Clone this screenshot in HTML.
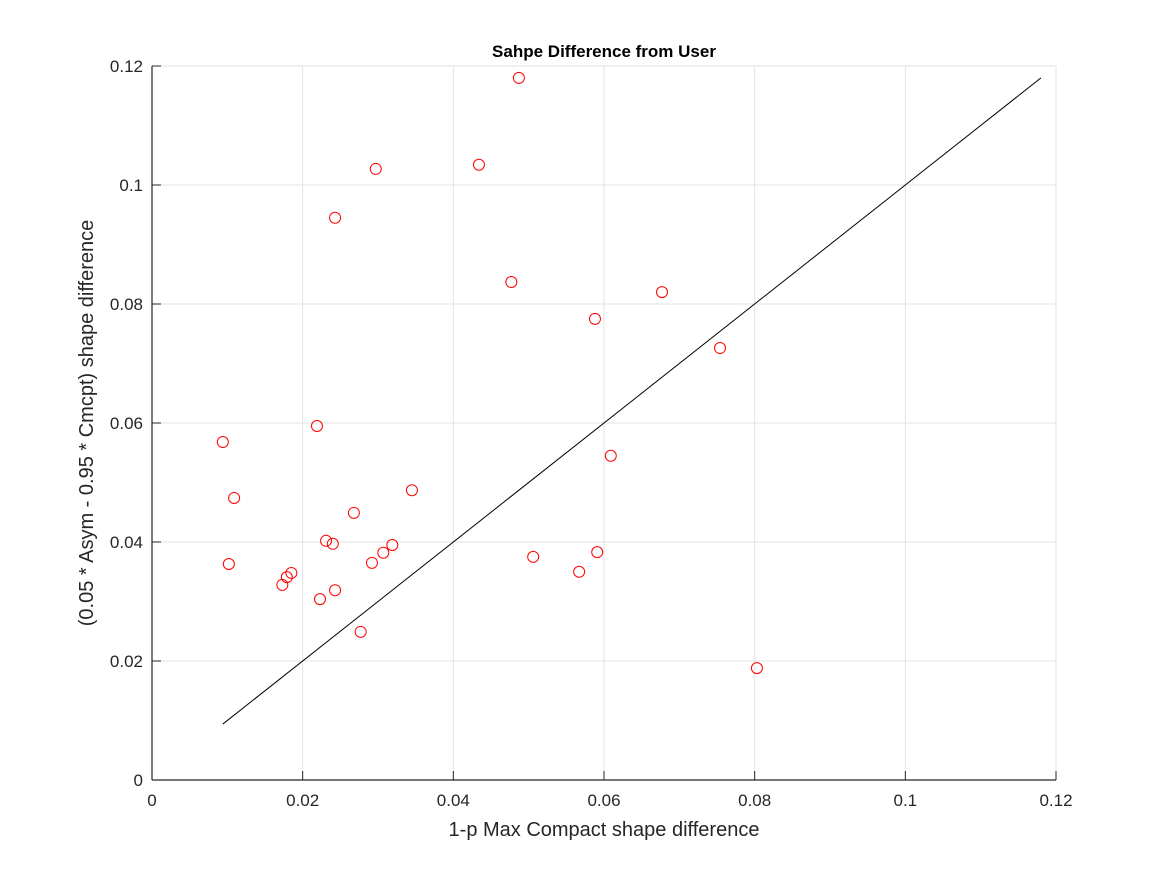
<!DOCTYPE html>
<html><head><meta charset="utf-8">
<style>
html,body{margin:0;padding:0;background:#fff;}
svg text{font-family:"Liberation Sans",sans-serif;fill:#262626;}
</style></head>
<body>
<svg id="chart" width="1167" height="875" viewBox="0 0 1167 875" xmlns="http://www.w3.org/2000/svg">
<rect width="1167" height="875" fill="#fff"/>
<g id="grid"></g>
<g id="marks"></g>
<g id="axes"></g>
<text x="604" y="57" text-anchor="middle" font-size="17" font-weight="bold" style="fill:#000">Sahpe Difference from User</text>
<text x="604" y="836" text-anchor="middle" font-size="20">1-p Max Compact shape difference</text>
<text transform="translate(93,423) rotate(-90)" text-anchor="middle" font-size="20">(0.05 * Asym - 0.95 * Cmcpt) shape difference</text>
</svg>
<script>
const xVals=[0.0487,0.0297,0.0434,0.0243,0.0477,0.0677,0.0588,0.0754,0.0094,0.0219,0.0609,0.0109,0.0345,0.0268,0.0231,0.0240,0.0319,0.0307,0.0506,0.0591,0.0102,0.0292,0.0567,0.0185,0.0179,0.0173,0.0243,0.0223,0.0277,0.0803];
const yVals=[0.1180,0.1027,0.1034,0.0945,0.0837,0.0820,0.0775,0.0726,0.0568,0.0595,0.0545,0.0474,0.0487,0.0449,0.0402,0.0397,0.0395,0.0382,0.0375,0.0383,0.0363,0.0365,0.0350,0.0348,0.0341,0.0328,0.0319,0.0304,0.0249,0.0188];
const lineX=[0.0094,0.118];
const lineY=[0.0094,0.118];
const xTicks=[0,0.02,0.04,0.06,0.08,0.1,0.12];
const yTicks=[0,0.02,0.04,0.06,0.08,0.1,0.12];
const xTickLabels=["0","0.02","0.04","0.06","0.08","0.1","0.12"];
const yTickLabels=["0","0.02","0.04","0.06","0.08","0.1","0.12"];

const L=152,R=1056,T=66,B=780,xMax=0.12,yMax=0.12;
const sx=v=>L+(v/xMax)*(R-L);
const sy=v=>B-(v/yMax)*(B-T);
const NS="http://www.w3.org/2000/svg";
function mk(tag,parent,attrs){const e=document.createElementNS(NS,tag);for(const k in attrs)e.setAttribute(k,attrs[k]);parent.appendChild(e);return e;}
const grid=document.getElementById('grid'),marks=document.getElementById('marks'),axes=document.getElementById('axes');

xTicks.forEach((t,i)=>{
  const x=sx(t);
  const g=mk('line',grid,{x1:x,x2:x,y1:T,y2:B,stroke:'#e3e3e3','stroke-width':1});
  
  
  const tk=mk('line',axes,{x1:x,x2:x,y1:B,y2:B-9,stroke:'#262626','stroke-width':1});
  
  
  const tx=mk('text',axes,{x:x,y:806,'text-anchor':'middle','font-size':17});
  tx.textContent=xTickLabels[i];
  
  
});
yTicks.forEach((t,i)=>{
  const y=sy(t);
  const g=mk('line',grid,{x1:L,x2:R,y1:y,y2:y,stroke:'#e3e3e3','stroke-width':1});
  
  
  const tk=mk('line',axes,{x1:L,x2:L+9,y1:y,y2:y,stroke:'#262626','stroke-width':1});
  
  
  const tx=mk('text',axes,{x:L-9,y:y+6,'text-anchor':'end','font-size':17});
  tx.textContent=yTickLabels[i];
  
  
});
const xa=mk('line',axes,{x1:L,x2:R,y1:B,y2:B,stroke:'#262626','stroke-width':1.2});


const ya=mk('line',axes,{x1:L,x2:L,y1:T,y2:B,stroke:'#262626','stroke-width':1.2});



const ln=mk('line',marks,{x1:sx(lineX[0]),y1:sy(lineY[0]),x2:sx(lineX[1]),y2:sy(lineY[1]),stroke:'#000','stroke-width':1});



xVals.forEach((v,i)=>{
  const c=mk('circle',marks,{cx:sx(v),cy:sy(yVals[i]),r:5.5,fill:'none',stroke:'#ff0000','stroke-width':1});
  
  
});
</script>
</body></html>
